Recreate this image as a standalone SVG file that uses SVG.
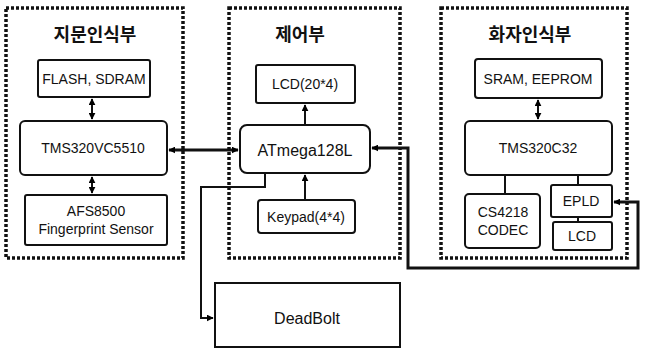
<svg xmlns="http://www.w3.org/2000/svg" width="649" height="353" viewBox="0 0 649 353">
<defs>
<marker id="ah" viewBox="0 0 10 10" refX="9" refY="5" markerWidth="7" markerHeight="7" orient="auto-start-reverse" markerUnits="userSpaceOnUse">
<path d="M0,0 L10,5 L0,10 z" fill="#000"/>
</marker>
<style>
.grp{fill:none;stroke:#111;stroke-width:3.5;stroke-dasharray:3 2}
.box{fill:#fff;stroke:#111;stroke-width:2}
.t{font-family:"Liberation Sans","Noto Sans CJK KR",sans-serif;font-size:14px;fill:#111;text-anchor:middle;dominant-baseline:central}
.h{font-family:"Noto Sans CJK KR",sans-serif;font-size:18px;font-weight:bold;fill:#111;text-anchor:middle;dominant-baseline:central}
.c{fill:none;stroke:#111;stroke-width:2}
.ct{fill:none;stroke:#111;stroke-width:3}
</style>
</defs>
<rect width="649" height="353" fill="#fff"/>
<g id="group-fingerprint">
<rect class="grp" x="6" y="8" width="177" height="250"/>
<text class="h" x="95" y="33">지문인식부</text>
</g>
<g id="group-control">
<rect class="grp" x="229" y="8" width="171" height="250"/>
<text class="h" x="300" y="33">제어부</text>
</g>
<g id="group-speaker">
<rect class="grp" x="441" y="8" width="186" height="250"/>
<text class="h" x="530" y="33">화자인식부</text>
</g>
<g id="n-flash"><rect class="box" x="38" y="60" width="112" height="37" rx="2"/><text class="t" x="94" y="79">FLASH, SDRAM</text></g>
<g id="n-tms5510"><rect class="box" x="20" y="121" width="147" height="54" rx="5"/><text class="t" x="93" y="148">TMS320VC5510</text></g>
<g id="n-afs"><rect class="box" x="25" y="195" width="142" height="50" rx="2"/><text class="t" x="96" y="211">AFS8500</text><text class="t" x="96" y="229">Fingerprint Sensor</text></g>
<g id="n-lcd2"><rect class="box" x="256" y="65" width="99" height="38" rx="2"/><text class="t" x="305" y="84">LCD(20*4)</text></g>
<g id="n-atmega"><rect class="box" x="240" y="125" width="130" height="48" rx="7"/><text class="t" x="305" y="150" style="font-size:16px">ATmega128L</text></g>
<g id="n-keypad"><rect class="box" x="258" y="200" width="97" height="33" rx="3"/><text class="t" x="306" y="217">Keypad(4*4)</text></g>
<g id="n-deadbolt"><rect class="box" x="215" y="283" width="185" height="64"/><text class="t" x="307" y="318" style="font-size:16px">DeadBolt</text></g>
<g id="n-sram"><rect class="box" x="475" y="59" width="127" height="39" rx="3"/><text class="t" x="538" y="79">SRAM, EEPROM</text></g>
<g id="n-tmsc32"><rect class="box" x="465" y="121" width="147" height="54" rx="5"/><text class="t" x="538" y="148">TMS320C32</text></g>
<g id="n-codec"><rect class="box" x="465" y="194" width="75" height="54" rx="4"/><text class="t" x="503" y="212">CS4218</text><text class="t" x="503" y="230">CODEC</text></g>
<g id="n-epld"><rect class="box" x="551" y="185" width="61" height="32" rx="2"/><text class="t" x="581" y="201">EPLD</text></g>
<g id="n-lcd"><rect class="box" x="553" y="222" width="59" height="28" rx="2"/><text class="t" x="582" y="236">LCD</text></g>
<g id="connectors">
<line class="c" x1="92" y1="99" x2="92" y2="119" marker-start="url(#ah)" marker-end="url(#ah)"/>
<line class="c" x1="92" y1="177" x2="92" y2="193" marker-start="url(#ah)" marker-end="url(#ah)"/>
<line class="ct" x1="169" y1="150" x2="238" y2="150" marker-start="url(#ah)" marker-end="url(#ah)"/>
<line class="c" x1="305" y1="125" x2="305" y2="105" marker-end="url(#ah)"/>
<line class="c" x1="305" y1="200" x2="305" y2="175" marker-end="url(#ah)"/>
<polyline class="c" points="265,173 265,187 201,187 201,318 213,318" marker-end="url(#ah)"/>
<polyline class="ct" points="372,148 408,148 408,268 638,268 638,202 614,202" marker-start="url(#ah)" marker-end="url(#ah)"/>
<line class="c" x1="538" y1="100" x2="538" y2="119" marker-start="url(#ah)" marker-end="url(#ah)"/>
<line class="c" x1="505" y1="175" x2="505" y2="194"/>
<line class="c" x1="578" y1="175" x2="578" y2="185"/>
<line class="c" x1="578" y1="217" x2="578" y2="222"/>
</g>
</svg>
